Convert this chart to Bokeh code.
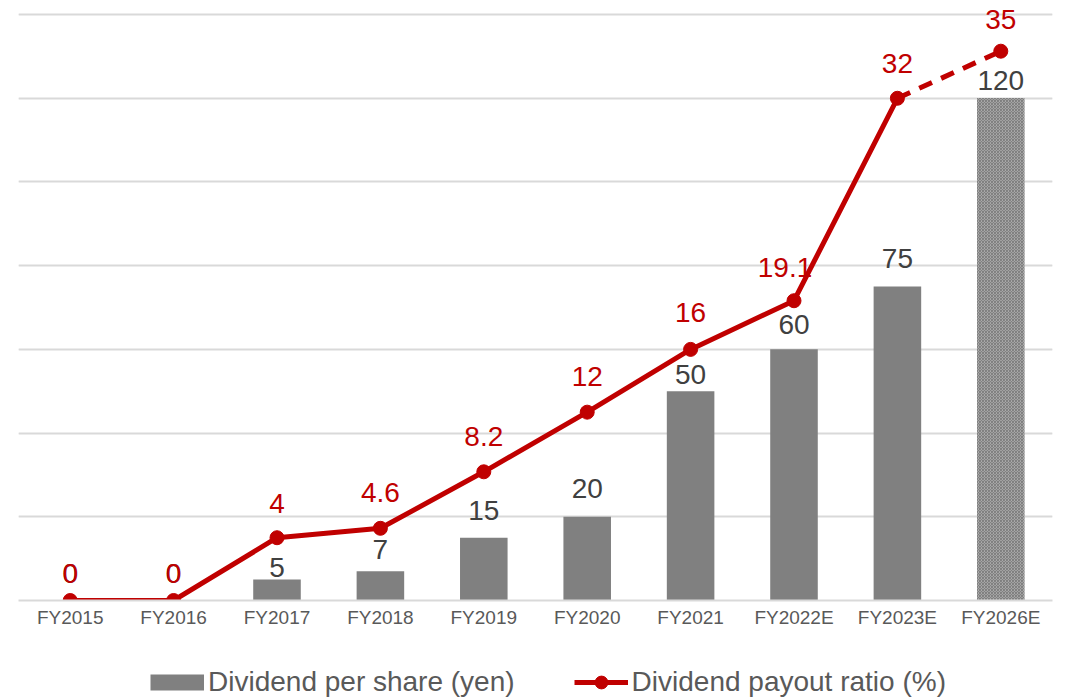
from bokeh.plotting import figure
from bokeh.models import (ColumnDataSource, FactorRange, Range1d, Grid, FixedTicker,
                          LabelSet, Legend, LegendItem)
from bokeh.layouts import column
from bokeh.core.properties import value
from bokeh.embed import file_html
from bokeh.resources import INLINE

# ---- data ----
years = ["FY2015", "FY2016", "FY2017", "FY2018", "FY2019", "FY2020",
         "FY2021", "FY2022E", "FY2023E", "FY2026E"]
dividend = [0, 0, 5, 7, 15, 20, 50, 60, 75, 120]
payout = [0, 0, 4, 4.6, 8.2, 12, 16, 19.1, 32, 35]
dividend_labels = ["0", "0", "5", "7", "15", "20", "50", "60", "75", "120"]
payout_labels = ["0", "0", "4", "4.6", "8.2", "12", "16", "19.1", "32", "35"]
estimate_from = 9  # last bar is a forecast (hatched), last line segment dashed

# ---- label placement (pixels above the mark) ----
bar_label_gap = [18, 18, 3, 12, 18, 19, 7, 15, 18, 8]
line_label_gap = [18, 18, 25, 26, 26, 26, 27, 24, 25, 22]
line_label_dx = [0, 0, 0, 0, 0, 0, 0, -9, 0, 0]

FONT = "Liberation Sans"
RED = "#C00000"
BAR = "#808080"

src = ColumnDataSource(dict(x=years, d=dividend, p=payout,
                            dl=dividend_labels, pl=payout_labels,
                            bo=bar_label_gap, lo=line_label_gap, dx=line_label_dx))
src_act = ColumnDataSource(dict(x=years[:estimate_from], d=dividend[:estimate_from]))
src_est = ColumnDataSource(dict(x=years[estimate_from:], d=dividend[estimate_from:]))
src_solid = ColumnDataSource(dict(x=years[:estimate_from], p=payout[:estimate_from]))
src_dash = ColumnDataSource(dict(x=years[estimate_from - 1:], p=payout[estimate_from - 1:]))

xr = FactorRange(*years, range_padding=0)

p = figure(width=1088, height=630, x_range=xr,
           y_range=Range1d(0, 143.3), output_backend="svg", toolbar_location=None,
           y_axis_location=None, min_border_left=18, min_border_right=36,
           min_border_top=0, min_border_bottom=29)
p.extra_y_ranges = {"pct": Range1d(0, 38.23)}
p.outline_line_color = None
p.background_fill_color = "white"
p.border_fill_color = "white"
p.xgrid.visible = False

grid = Grid(dimension=1, ticker=FixedTicker(ticks=[20, 40, 60, 80, 100, 120, 140]),
            grid_line_color="#d9d9d9", grid_line_width=2)
p.add_layout(grid)

xa = p.xaxis[0]
xa.axis_line_color = "#d9d9d9"
xa.axis_line_width = 2
xa.major_tick_line_color = None
xa.minor_tick_line_color = None
xa.major_label_text_font = FONT
xa.major_label_text_font_size = "19px"
xa.major_label_text_color = "#595959"
xa.major_label_standoff = 0

p.vbar(x="x", top="d", width=0.46, source=src_act, fill_color=BAR, line_color=None)
p.vbar(x="x", top="d", width=0.46, source=src_est, fill_color="white", line_color=None,
       hatch_pattern="diagonal_cross", hatch_color=BAR, hatch_scale=3, hatch_weight=1.75)
p.line(x="x", y="p", source=src_solid, line_color=RED, line_width=5, y_range_name="pct")
p.line(x="x", y="p", source=src_dash, line_color=RED, line_width=5,
       line_dash="14 10", y_range_name="pct")
p.scatter(x="x", y="p", source=src, size=14, fill_color=RED, line_color=RED,
          y_range_name="pct")

bl = LabelSet(x="x", y="d", text="dl", source=src, text_align="center",
              text_baseline="alphabetic", y_offset="bo", text_font=value(FONT),
              text_font_size="28px", text_color="#404040")
ll = LabelSet(x="x", y="p", text="pl", source=src, text_align="center",
              text_baseline="alphabetic", y_offset="lo", x_offset="dx", text_font=value(FONT),
              text_font_size="28px", text_color=RED, y_range_name="pct")
p.add_layout(bl)
p.add_layout(ll)

# legend strip below the chart (series keys only; data lie outside its view)
pl = figure(width=1088, height=68, x_range=xr, y_range=Range1d(-2, -1),
            output_backend="svg", toolbar_location=None,
            x_axis_location=None, y_axis_location=None,
            min_border_left=0, min_border_right=0, min_border_top=0, min_border_bottom=0)
pl.outline_line_color = None
pl.xgrid.visible = False
pl.ygrid.visible = False
key_bar = pl.line(x="x", y="d", source=src_act, line_color=BAR, line_width=16)
key_line = pl.line(x="x", y="p", source=src_solid, line_color=RED, line_width=5)
key_pt = pl.scatter(x="x", y="p", source=src, size=14, fill_color=RED, line_color=RED)

legend = Legend(items=[LegendItem(label="Dividend per share (yen)", renderers=[key_bar]),
                       LegendItem(label="Dividend payout ratio (%)", renderers=[key_line, key_pt])],
                orientation="horizontal", location=(132, 0),
                label_text_font=FONT, label_text_font_size="28px",
                label_text_color="#595959", glyph_width=54, glyph_height=32,
                label_standoff=4, spacing=59, border_line_color=None,
                background_fill_alpha=0, padding=0, margin=0)
pl.add_layout(legend)

page = column(p, pl, spacing=0)
open("out.html", "w").write(file_html(page, INLINE))
